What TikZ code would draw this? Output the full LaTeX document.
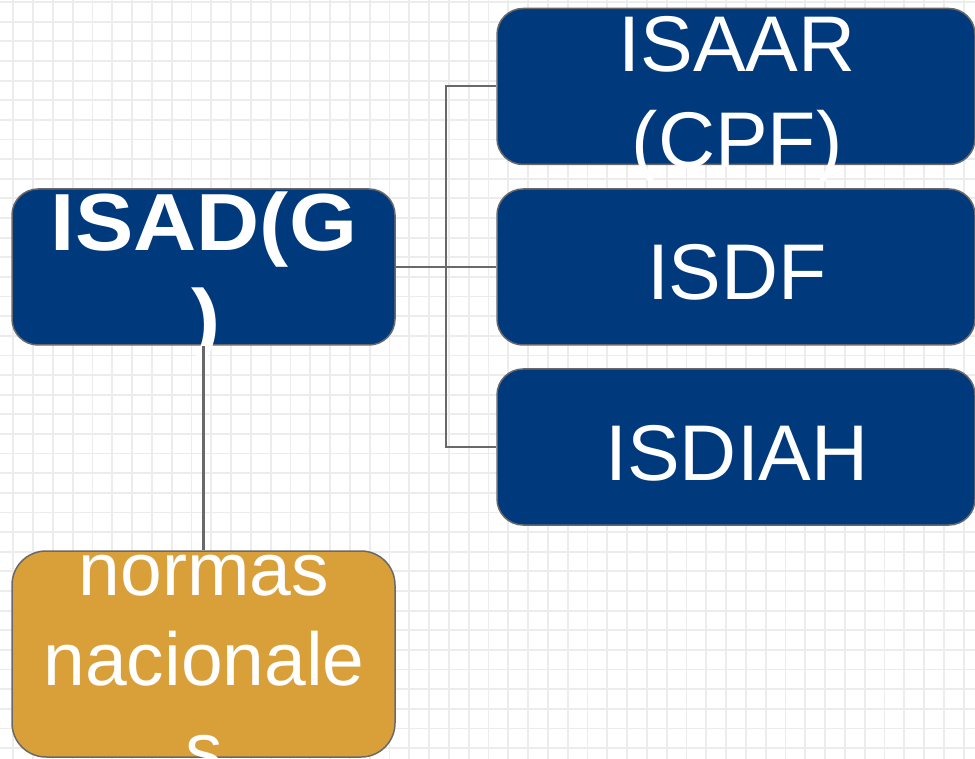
\documentclass[tikz,border=0pt]{standalone}
\usepackage{fontspec}
\setmainfont{Liberation Sans}
\newfontfamily\widebold[FakeStretch=1.08]{Liberation Sans Bold}
\usepackage{tikz}
\usetikzlibrary{positioning}

\definecolor{navy}{RGB}{0,58,125}
\definecolor{gold}{RGB}{217,160,58}
\definecolor{gridgray}{RGB}{236,236,236}
\definecolor{linegray}{RGB}{105,105,105}

\tikzset{
  stdbox/.style={draw=linegray, line width=1.5pt, fill=navy, rounded corners=26pt,
    minimum width=478pt, minimum height=156pt, inner sep=0pt},
  natbox/.style={draw=linegray, line width=1.5pt, fill=gold, rounded corners=34pt,
    minimum width=383pt, minimum height=206pt, inner sep=0pt},
  txt/.style={anchor=base, inner sep=0pt, text=white, font=\fontsize{79}{95}\selectfont},
  boldtxt/.style={txt, font=\fontsize{81}{95}\selectfont\widebold},
  smalltxt/.style={txt, font=\fontsize{75}{90}\selectfont},
  link/.style={draw=linegray, line width=2pt},
}

\begin{document}
\begin{tikzpicture}[x=1pt,y=-1pt]
        \useasboundingbox (0,0) rectangle (975,759);
        \fill[white] (0,0) rectangle (975,759);
        \foreach \x in {0,...,48} % edit here for the vertical grid lines
        \draw[gridgray, line width=1.8pt] (13.3+19.8*\x,0) -- (13.3+19.8*\x,759);
        \foreach \y in {0,...,38} % edit here for the horizontal grid lines
        \draw[gridgray, line width=1.8pt] (0,2.1+19.63*\y) -- (975,2.1+19.63*\y);

        % boxes
        \node[stdbox, minimum width=383pt] (isad) at (203.5,267) {};
        \node[stdbox] (isaar) at (736,86.5) {};
        \node[stdbox] (isdf) at (736,267) {};
        \node[stdbox] (isdiah) at (736,447) {};
        \node[natbox] (normas) at (203.5,654) {};

        % connectors to the right
        \coordinate (fork) at (446,267);
        \draw[link] (isad.east) -- (fork);
        \draw[link] (isaar.west) -| (fork) |- (isdiah.west);
        \draw[link] (fork) -- (isdf.west);

        % texts
        \node[boldtxt] (isadA) at (204,251) {ISAD(G};
        \node[boldtxt] (isadB) at (206,347) {)};
        \node[txt] (isaarA) at (737,72) {ISAAR};
        \node[txt] (isaarB) at (737,168) {(CPF)};
        \node[txt] (isdftxt) at (737,300) {ISDF};
        \node[txt] (isdiahtxt) at (737,480) {ISDIAH};
        \node[smalltxt] (normasA) at (204,595) {normas};
        \node[smalltxt] (normasB) at (204,685) {nacionale};
        \node[smalltxt] (normasC) at (204,775) {s};

        % connector down, over the text
        \draw[link, line width=3.5pt] (isad.south) -- (normas.north);
    \end{tikzpicture}
\end{document}
